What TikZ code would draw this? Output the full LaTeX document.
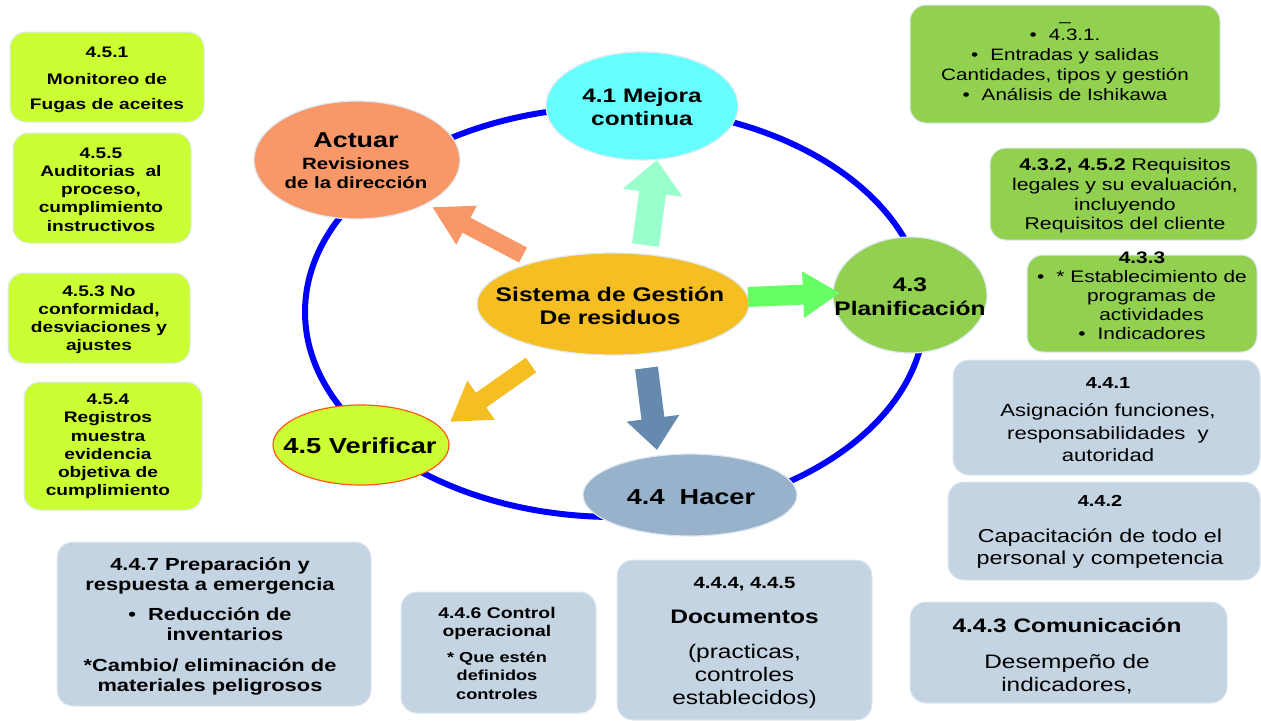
\documentclass[tikz,border=0pt]{standalone}
\usepackage{fontspec}
\setmainfont{Liberation Sans}[FakeStretch=1.25]
\usetikzlibrary{shapes.geometric,arrows.meta}
\newcommand{\setfs}[2]{\fontsize{#1}{#2}\selectfont}

\definecolor{cycleBlue}{RGB}{0,0,255}
\definecolor{mejoraC}{RGB}{102,255,255}
\definecolor{actuarC}{RGB}{248,152,104}
\definecolor{sysC}{RGB}{245,190,35}
\definecolor{verifC}{RGB}{204,255,51}
\definecolor{verifRim}{RGB}{255,90,20}
\definecolor{hacerC}{RGB}{151,178,202}
\definecolor{planC}{RGB}{146,208,80}
\definecolor{mintC}{RGB}{153,255,204}
\definecolor{greenArr}{RGB}{102,255,102}
\definecolor{steelArr}{RGB}{102,138,174}
\definecolor{limeC}{RGB}{204,255,51}
\definecolor{grayC}{RGB}{196,212,226}
\definecolor{rimC}{RGB}{222,232,242}

\begin{document}
\begin{tikzpicture}[x=1pt,y=-1pt,
  ell/.style={ellipse, inner sep=0pt, draw=rimC, line width=1.2pt},
  etxt/.style={align=center, inner sep=0pt},
  bx/.style={rectangle, rounded corners=16pt, draw=rimC, line width=1pt, inner sep=0pt},
  limebox/.style={bx, fill=limeC},
  greenbox/.style={bx, fill=planC},
  graybox/.style={bx, fill=grayC},
  btxt/.style={align=center, inner sep=0pt},
  blockarrow/.style n args={4}{draw=#1, line width=#2, -{Triangle[width=#3, length=#4]}},
]
\fill[white] (0,0) rectangle (1261,721);
\useasboundingbox (0,0) rectangle (1261,721);

% the PHVA cycle ring
\node[ellipse, draw=cycleBlue, line width=6pt, minimum width=620pt, minimum height=410pt, inner sep=0pt] (ring) at (615,312) {};

% cycle stages
\node[ell, fill=mejoraC, minimum width=192pt, minimum height=108pt] (mej) at (642,106) {};
\node[ell, fill=actuarC, minimum width=206pt, minimum height=118pt] (act) at (357,160) {};
\node[ell, fill=sysC, minimum width=272pt, minimum height=102pt] (sys) at (613,304) {};
\node[ell, fill=verifC, draw=verifRim, minimum width=176pt, minimum height=80pt] (ver) at (361,445) {};
\node[ell, fill=hacerC, minimum width=214pt, minimum height=82pt] (hac) at (690,495) {};
\node[ell, fill=planC, minimum width=154pt, minimum height=116pt] (pla) at (910,295) {};

\node[etxt, font=\bfseries\setfs{19.5}{23}] (mej-t) at (642,107.5) {4.1 Mejora\\continua};
\node[etxt, font=\bfseries\setfs{16.3}{19.5}] (act-t) at (356,161) {{\setfs{21.5}{22}Actuar}\\[2pt]Revisiones\\de la dirección};
\node[etxt, font=\bfseries\setfs{19.7}{23}] (sys-t) at (610,305.5) {Sistema de Gestión\\De residuos};
\node[etxt, font=\bfseries\setfs{21.8}{24}] (ver-t) at (360,446) {4.5 Verificar};
\node[etxt, font=\bfseries\setfs{21.7}{24}] (hac-t) at (691,497) {4.4\ \ Hacer};
\node[etxt, font=\bfseries\setfs{19.6}{24}] (pla-t) at (910,296.5) {4.3\\Planificación};

% block arrows from the management system to each stage
\coordinate (mintS) at (645.5,245);  \coordinate (mintE) at (657,160);
\coordinate (salS) at (523,255);     \coordinate (salE) at (432,207);
\coordinate (golS) at (531,365);     \coordinate (golE) at (450,422);
\coordinate (stS) at (646.5,368);    \coordinate (stE) at (657,450);
\coordinate (grS) at (748,297);      \coordinate (grE) at (840,293);
\draw[blockarrow={mintC}{27pt}{58pt}{33pt}] (mintS) -- (mintE);
\draw[blockarrow={actuarC}{17pt}{41pt}{39pt}] (salS) -- (salE);
\draw[blockarrow={sysC}{18pt}{45pt}{38pt}] (golS) -- (golE);
\draw[blockarrow={steelArr}{23pt}{51pt}{32pt}] (stS) -- (stE);
\draw[blockarrow={greenArr}{20pt}{44pt}{37pt}] (grS) -- (grE);

% verification boxes (left)
\node[limebox, minimum width=194pt, minimum height=90pt] (b451) at (107,77) {};
\node[btxt, font=\bfseries\setfs{15.3}{18}] (t451) at (107,79.5) {4.5.1\\[9pt]Monitoreo de\\[7pt]Fugas de aceites};
\node[limebox, minimum width=178pt, minimum height=110pt] (b455) at (102,188) {};
\node[btxt, font=\bfseries\setfs{15.3}{18.2}] (t455) at (101,189.5) {4.5.5\\Auditorias\ \ al\\proceso,\\cumplimiento\\instructivos};
\node[limebox, minimum width=182pt, minimum height=90pt] (b453) at (99,318) {};
\node[btxt, font=\bfseries\setfs{15.3}{18}] (t453) at (99,320) {4.5.3 No\\conformidad,\\desviaciones y\\ajustes};
\node[limebox, minimum width=178pt, minimum height=128pt] (b454) at (113,446) {};
\node[btxt, font=\bfseries\setfs{15.3}{18.2}] (t454) at (108,446.5) {4.5.4\\Registros\\muestra\\evidencia\\objetiva de\\cumplimiento};

% planning boxes (upper right)
\node[greenbox, minimum width=310pt, minimum height=118pt] (b431) at (1065,64) {};
\node[btxt, font=\setfs{16.5}{20}] (t431) at (1065,61) {\_\\•\hspace{12pt}4.3.1.\\•\hspace{12pt}Entradas y salidas\\Cantidades, tipos y gestión\\•\hspace{12pt}Análisis de Ishikawa};
\node[greenbox, minimum width=267pt, minimum height=92pt] (b432) at (1123.5,194) {};
\node[btxt, font=\setfs{17}{19.7}] (t432) at (1125,196) {\textbf{4.3.2, 4.5.2} Requisitos\\legales y su evaluación,\\incluyendo\\Requisitos del cliente};
\node[greenbox, minimum width=230pt, minimum height=97pt] (b433) at (1142,303.5) {};
\node[btxt, font=\setfs{16.7}{19}] (t433) at (1142,295.5) {\textbf{4.3.3}\\•\hspace{12pt}* Establecimiento de\\\hspace*{19pt}programas de\\\hspace*{19pt}actividades\\•\hspace{12pt}Indicadores};

% implementation boxes (right and bottom)
\node[graybox, minimum width=307pt, minimum height=115pt] (b441) at (1106.5,417.5) {};
\node[btxt, font=\setfs{17.7}{22.5}] (t441) at (1108,419.5) {{\bfseries\setfs{16}{18}4.4.1}\\[6pt]Asignación funciones,\\responsabilidades\ \ y\\autoridad};
\node[graybox, minimum width=312pt, minimum height=98pt] (b442) at (1104,531) {};
\node[btxt, font=\setfs{18.7}{22}] (t442) at (1100,532) {{\bfseries\setfs{16}{18}4.4.2}\\[14pt]Capacitación de todo el\\personal y competencia};
\node[graybox, minimum width=317pt, minimum height=101pt] (b443) at (1068.5,652.5) {};
\node[btxt, font=\setfs{19.5}{23}] (t443) at (1067,656) {\textbf{4.4.3 Comunicación}\\[13pt]Desempeño de\\indicadores,};
\node[graybox, minimum width=255pt, minimum height=160pt] (b444) at (744.5,640) {};
\node[btxt, font=\setfs{19.6}{23}] (t444) at (744.5,643) {{\bfseries\setfs{16.3}{18}4.4.4, 4.4.5}\\[12pt]\textbf{Documentos}\\[12pt](practicas,\\controles\\establecidos)};
\node[graybox, minimum width=195pt, minimum height=121pt] (b446) at (498.5,652.5) {};
\node[btxt, font=\bfseries\setfs{15.5}{18.5}] (t446) at (497,653) {4.4.6 Control\\operacional\\[7pt]{\setfs{14.5}{18}* Que estén}\\{\setfs{14.5}{18}definidos}\\{\setfs{14.5}{18}controles}};
\node[graybox, minimum width=314pt, minimum height=164pt] (b447) at (214,624) {};
\node[btxt, font=\bfseries\setfs{17.5}{20}] (t447) at (210,626.5) {4.4.7 Preparación y\\respuesta a emergencia\\[10pt]•\hspace{12pt}Reducción de\\\hspace*{30pt}inventarios\\[11pt]*Cambio/ eliminación de\\materiales peligrosos};
\end{tikzpicture}
\end{document}
